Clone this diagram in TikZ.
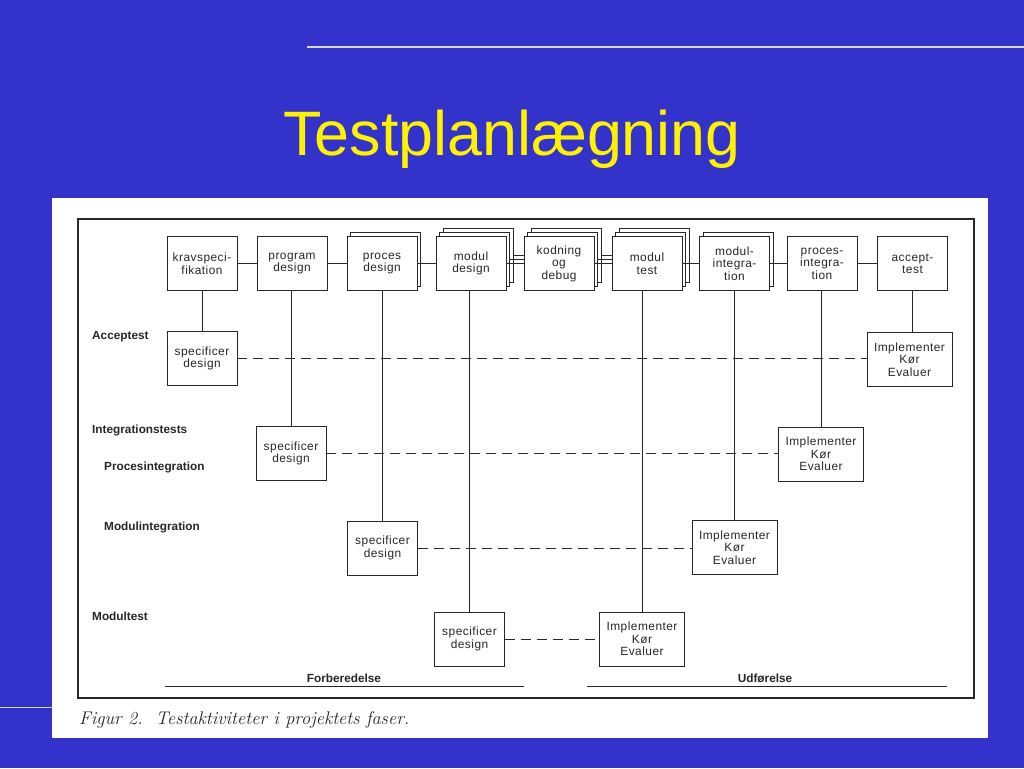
\documentclass[tikz,border=0pt]{standalone}
\usepackage{fontspec}
\newfontfamily\lsans{Liberation Sans}
\newfontfamily\lsanst[LetterSpace=4]{Liberation Sans}
\definecolor{bgblue}{RGB}{51,51,204}
\definecolor{ink}{RGB}{40,40,40}
\definecolor{rulec}{RGB}{215,215,185}
\begin{document}
\begin{tikzpicture}[x=1pt,y=-1pt,
  box/.style={draw=ink, fill=white, line width=0.9pt, minimum width=70pt, minimum height=54pt,
    inner sep=0pt, align=center, font=\lsanst\fontsize{11.9}{12.4}\selectfont, text=ink},
  impl/.style={box, minimum width=85pt},
  rowlabel/.style={anchor=west, font=\lsans\bfseries\fontsize{11.8}{13}\selectfont, text=ink, inner sep=0pt},
  link/.style={draw=ink, line width=0.9pt},
  plan/.style={draw=ink, line width=0.9pt, dash pattern=on 10pt off 6pt}]
\useasboundingbox (0,0) rectangle (1024,768);
\fill[bgblue] (0,0) rectangle (1024,768);
\draw[rulec, line width=1.5pt] (307,47) -- (1024,47);
\draw[rulec, line width=1.5pt] (0,707.5) -- (52,707.5);
\node[font=\lsans\fontsize{62.8}{70}\selectfont, text=yellow, anchor=base, inner sep=0pt] (title) at (512,155) {Testplanlægning};
\fill[white] (52,198) rectangle (988,738);
\draw[ink, line width=1.2pt] (78,219) rectangle (974,698);

% back layers of stacked boxes
\node[box] (pc1) at (385.5,259.7) {};
\node[box] (md2) at (478,255.7) {};
\node[box] (md1) at (474.5,259.7) {};
\node[box] (kd2) at (566,255.7) {};
\node[box] (kd1) at (562.5,259.7) {};
\node[box] (mt2) at (654,255.7) {};
\node[box] (mt1) at (650.5,259.7) {};
\node[box] (mi1) at (738,259.7) {};

% phase boxes
\node[box] (kr) at (202,263.7) {kravspeci-\\fikation};
\node[box] (pd) at (292,263.7) {program\\design};
\node[box] (pc) at (382,263.7) {proces\\design};
\node[box] (md) at (471,263.7) {modul\\design};
\node[box] (kd) at (559,263.7) {kodning\\og\\debug};
\node[box] (mt) at (647,263.7) {modul\\test};
\node[box] (mi) at (734.5,263.7) {modul-\\integra-\\tion};
\node[box] (pi) at (822,263.7) {proces-\\integra-\\tion};
\node[box] (at) at (912.5,263.7) {accept-\\test};

% test activity boxes
\node[box] (sa) at (202,358.7) {specificer\\design};
\node[impl] (ia) at (909.5,359.7) {Implementer\\Kør\\Evaluer};
\node[box] (si) at (291,453.5) {specificer\\design};
\node[impl] (ii) at (821,454) {Implementer\\Kør\\Evaluer};
\node[box] (sm) at (382.5,548) {specificer\\design};
\node[impl] (im) at (734.5,547.5) {Implementer\\Kør\\Evaluer};
\node[box] (st) at (469.5,639) {specificer\\design};
\node[impl] (it) at (642,639) {Implementer\\Kør\\Evaluer};

% horizontal phase links
\draw[link] (kr.east) -- (pd.west);
\draw[link] (pd.east) -- (pc.west);
\draw[link] (pc.east) -- (md.west);
\draw[link] (md.east) -- (md.east -| kd.west);
\draw[link] (md1.east) -- (md1.east -| kd.west);
\draw[link] (md2.east) -- (md2.east -| kd.west);
\draw[link] (kd.east) -- (kd.east -| mt.west);
\draw[link] (kd1.east) -- (kd1.east -| mt.west);
\draw[link] (kd2.east) -- (kd2.east -| mt.west);
\draw[link] (mt.east) -- (mi.west);
\draw[link] (mi.east) -- (pi.west);
\draw[link] (pi.east) -- (at.west);

% vertical links
\draw[link] (sa.north) -- (sa.north |- kr.south);
\draw[link] (si.north) -- (si.north |- pd.south);
\draw[link] (sm.north) -- (sm.north |- pc.south);
\draw[link] (st.north) -- (st.north |- md.south);
\draw[link] (it.north) -- (it.north |- mt.south);
\draw[link] (im.north) -- (im.north |- mi.south);
\draw[link] (ii.north) -- (ii.north |- pi.south);
\draw[link] (at.south) -- (at.south |- ia.north);

% dashed planning links
\draw[plan] (sa.east) -- (sa.east -| ia.west);
\draw[plan] (si.east) -- (si.east -| ii.west);
\draw[plan] (sm.east) -- (sm.east -| im.west);
\draw[plan] (st.east) -- (st.east -| it.west);

% row labels
\node[rowlabel] (l1) at (92,337) {Acceptest};
\node[rowlabel] (l2) at (92,430) {Integrationstests};
\node[rowlabel] (l3) at (104,467) {Procesintegration};
\node[rowlabel] (l4) at (104,527) {Modulintegration};
\node[rowlabel] (l5) at (92,616) {Modultest};

% phases
\node[rowlabel, anchor=center] (forb) at (344,678) {Forberedelse};
\node[rowlabel, anchor=center] (udf) at (765,678) {Udførelse};
\coordinate (f1) at (165,686); \coordinate (f2) at (524,686);
\coordinate (u1) at (587,686); \coordinate (u2) at (947,686);
\draw[link] (f1) -- (f2);
\draw[link] (u1) -- (u2);

\node[anchor=base west, inner sep=0pt, font=\fontsize{18.3}{20}\selectfont\itshape, text=ink] (cap) at (79,724) {Figur 2.\ \ Testaktiviteter i projektets faser.};
\end{tikzpicture}
\end{document}
